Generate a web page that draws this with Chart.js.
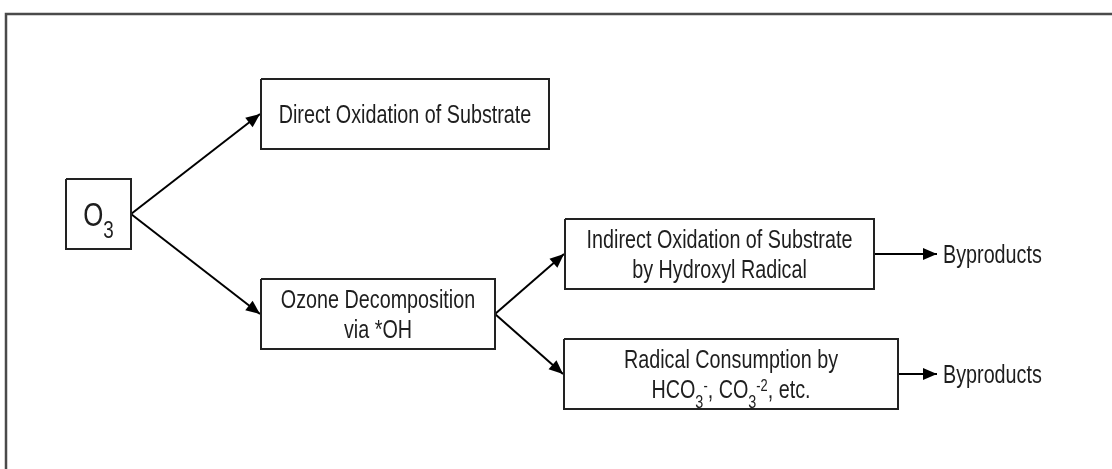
<!DOCTYPE html>
<html>
<head>
<meta charset="utf-8">
<script src="https://cdn.jsdelivr.net/npm/chart.js@4.4.1/dist/chart.umd.min.js"></script>
<style>
  html, body { margin: 0; padding: 0; background: #fff; }
  #wrap { width: 1112px; height: 469px; position: relative; }
</style>
</head>
<body>
<div id="wrap"><canvas id="chart1"></canvas></div>
<script>
// what the diagram says
const nodeText = [
    ['O_{3}'],
    ['Direct Oxidation of Substrate'],
    ['Ozone Decomposition', 'via *OH'],
    ['Indirect Oxidation of Substrate', 'by Hydroxyl Radical'],
    ['Radical Consumption by', 'HCO_{3}^{-}, CO_{3}^{-2}, etc.'],
    ['Byproducts'],
    ['Byproducts']
]
const edgeFrom = [0, 0, 2, 2, 3, 4]
const edgeTo = [1, 2, 3, 4, 5, 6]

// layout, in axis units (x 0..1112, y 0..469 from the top)
const nodeCx = [98.5, 405, 378, 719.5, 731, 937, 937]
const nodeCy = [214, 114, 314, 254, 374, 254, 374]
const nodeW = [65, 288, 234, 309, 334, 0, 0]
const nodeH = [70, 70, 70, 70, 70, 0, 0]
const nodeFont = [34, 26, 26, 26, 26, 26, 26]

const SX = 0.76          // narrow type
const LINE_GAP = 30
const FONT = '"Liberation Sans", Arial, sans-serif'
const INK = '#1e1e1e'

// boxes as closed polylines
const boxSets = nodeText.map((t, i) => {
    if (!nodeW[i]) return null
    const l = nodeCx[i] - nodeW[i] / 2, r = nodeCx[i] + nodeW[i] / 2
    const tp = nodeCy[i] - nodeH[i] / 2, b = nodeCy[i] + nodeH[i] / 2
    return {
        data: [{ x: l, y: tp }, { x: r, y: tp }, { x: r, y: b }, { x: l, y: b }, { x: l, y: tp }],
        borderColor: '#222', borderWidth: 2
    }
}).filter(Boolean)

// arrows
const edgeSets = edgeFrom.map((f, k) => {
    const t = edgeTo[k]
    const x0 = nodeCx[f] + nodeW[f] / 2
    const x1 = nodeW[t] ? nodeCx[t] - nodeW[t] / 2 - 1 : nodeCx[t]
    return {
        data: [{ x: x0, y: nodeCy[f] }, { x: x1, y: nodeCy[t] }],
        borderColor: '#000', borderWidth: 2, arrow: true
    }
})

const frameSet = {
    data: [{ x: 6, y: 469 }, { x: 6, y: 14 }, { x: 1112, y: 14 }],
    borderColor: '#4a4a4a', borderWidth: 2.5
}

function parseRich(s) {
    const out = []
    const re = /_\{([^}]*)\}|\^\{([^}]*)\}|([^_^]+)/g
    let m
    while ((m = re.exec(s))) {
        if (m[1] !== undefined) out.push({ t: m[1], k: 'sub' })
        else if (m[2] !== undefined) out.push({ t: m[2], k: 'sup' })
        else out.push({ t: m[3], k: 'n' })
    }
    return out
}

function runSize(k, fs) {
    return k === 'sub' ? fs * 0.73 : k === 'sup' ? fs * 0.65 : fs
}
function runShift(k, fs) {
    return k === 'sub' ? fs * 0.36 : k === 'sup' ? -fs * 0.28 : 0
}

function drawRich(ctx, s, x, y, fs, centered) {
    const runs = parseRich(s)
    let raw = 0
    runs.forEach(r => {
        ctx.font = runSize(r.k, fs) + 'px ' + FONT
        r.w = ctx.measureText(r.t).width
        raw += r.w
    })
    const x0 = centered ? x - raw * SX / 2 : x
    ctx.save()
    ctx.translate(x0, y)
    ctx.scale(SX, 1)
    let cx = 0
    runs.forEach(r => {
        ctx.font = runSize(r.k, fs) + 'px ' + FONT
        ctx.fillText(r.t, cx, runShift(r.k, fs))
        cx += r.w
    })
    ctx.restore()
}

const diagramPlugin = {
    id: 'diagram',
    afterDatasetsDraw(chart) {
        const { ctx, scales: { x, y } } = chart
        ctx.save()
        ctx.fillStyle = '#000'
        chart.data.datasets.forEach(ds => {
            if (!ds.arrow) return
            const a = ds.data[ds.data.length - 2], b = ds.data[ds.data.length - 1]
            const ax = x.getPixelForValue(a.x), ay = y.getPixelForValue(a.y)
            const bx = x.getPixelForValue(b.x), by = y.getPixelForValue(b.y)
            const ang = Math.atan2(by - ay, bx - ax)
            const len = 14, half = 6
            const c = Math.cos(ang), s = Math.sin(ang)
            ctx.beginPath()
            ctx.moveTo(bx, by)
            ctx.lineTo(bx - len * c + half * s, by - len * s - half * c)
            ctx.lineTo(bx - len * c - half * s, by - len * s + half * c)
            ctx.closePath()
            ctx.fill()
        })

        ctx.fillStyle = INK
        ctx.textBaseline = 'alphabetic'
        nodeText.forEach((lines, i) => {
            const fs = nodeFont[i]
            const px = x.getPixelForValue(nodeCx[i])
            const py = y.getPixelForValue(nodeCy[i])
            lines.forEach((ln, j) => {
                const base = py + (j - (lines.length - 1) / 2) * LINE_GAP + 0.36 * fs
                if (nodeW[i]) drawRich(ctx, ln, px, base, fs, true)
                else drawRich(ctx, ln, px + 6, base, fs, false)
            })
        })
        ctx.restore()
    }
}

const data = {
    datasets: [frameSet, ...boxSets, ...edgeSets].map(d => Object.assign({
        showLine: true,
        pointRadius: 0,
        pointHoverRadius: 0,
        fill: false,
        tension: 0
    }, d))
}

let options = {
    responsive: true,
    maintainAspectRatio: false,
    animation: false,
    layout: { padding: 0 },
    events: [],
    plugins: {
        legend: { display: false },
        tooltip: { enabled: false }
    },
    scales: {
        x: { type: 'linear', min: 0, max: 1112, display: false },
        y: { type: 'linear', min: 0, max: 469, reverse: true, display: false }
    }
}

new Chart('chart1', { type: 'scatter', data, options, plugins: [diagramPlugin] })
</script>
</body>
</html>
